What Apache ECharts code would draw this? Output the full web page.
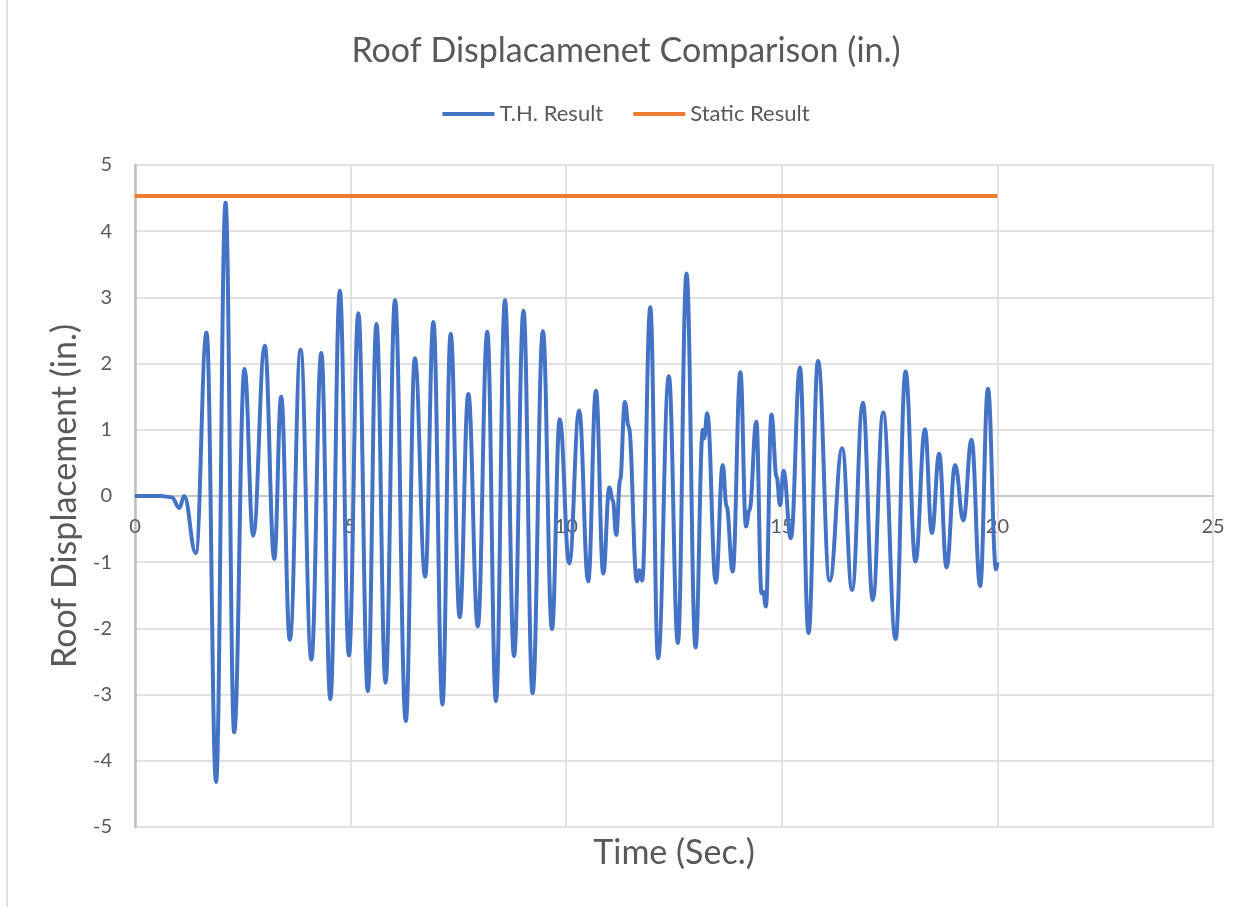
<!DOCTYPE html>
<html>
<head>
<meta charset="utf-8">
<script src="https://cdn.jsdelivr.net/npm/echarts@6/dist/echarts.min.js"></script>
<style>
html,body{margin:0;padding:0;background:#fff;}
#chart{width:1252px;height:907px;}
</style>
</head>
<body>
<div id="chart"></div>
<script>
// Time (sec.) of the T.H. curve's read-off points
const timeValues = [0, 0.6, 0.85, 1.03, 1.14, 1.41, 1.66, 1.88, 2.10, 2.30, 2.54, 2.74, 3.01, 3.23, 3.39, 3.59, 3.84, 4.09, 4.32, 4.53, 4.75, 4.96, 5.18, 5.40, 5.60, 5.81, 6.03, 6.28, 6.49, 6.73, 6.92, 7.13, 7.32, 7.53, 7.73, 7.95, 8.17, 8.37, 8.58, 8.79, 9.01, 9.22, 9.46, 9.67, 9.85, 10.07, 10.30, 10.51, 10.69, 10.86, 11.00, 11.08, 11.16, 11.25, 11.36, 11.45, 11.64, 11.70, 11.76, 11.95, 12.13, 12.38, 12.59, 12.79, 13.00, 13.17, 13.20, 13.27, 13.47, 13.63, 13.72, 13.86, 14.04, 14.17, 14.25, 14.41, 14.53, 14.57, 14.63, 14.76, 14.88, 14.96, 15.04, 15.21, 15.42, 15.62, 15.84, 16.11, 16.40, 16.63, 16.88, 17.11, 17.35, 17.64, 17.87, 18.10, 18.32, 18.48, 18.65, 18.82, 19.02, 19.21, 19.40, 19.60, 19.78, 19.97, 20.0];
// Roof displacement (in.) – T.H. Result
const thValues = [0, 0, -0.02, -0.18, 0, -0.86, 2.47, -4.32, 4.43, -3.57, 1.92, -0.60, 2.27, -0.95, 1.50, -2.17, 2.21, -2.47, 2.16, -3.07, 3.10, -2.41, 2.76, -2.95, 2.60, -2.82, 2.96, -3.40, 2.08, -1.22, 2.63, -3.15, 2.45, -1.83, 1.54, -1.97, 2.48, -3.10, 2.96, -2.42, 2.80, -2.98, 2.49, -2.01, 1.16, -1.02, 1.29, -1.29, 1.59, -1.17, 0.13, -0.06, -0.59, 0.24, 1.42, 1.05, -1.29, -1.12, -1.28, 2.85, -2.45, 1.81, -2.22, 3.36, -2.29, 1.0, 0.87, 1.25, -1.31, 0.47, -0.16, -1.14, 1.87, -0.46, -0.21, 1.12, -1.47, -1.45, -1.67, 1.23, 0.29, -0.14, 0.38, -0.64, 1.94, -2.07, 2.04, -1.28, 0.72, -1.42, 1.41, -1.57, 1.26, -2.16, 1.88, -0.99, 1.01, -0.56, 0.64, -1.08, 0.47, -0.37, 0.85, -1.36, 1.62, -1.11, -1.0];
// Static Result
const staticTimes = [0, 20];
const staticValues = [4.53, 4.53];

const seriesNames = ['T.H. Result', 'Static Result'];
const titleText = 'Roof Displacamenet Comparison (in.)';
const xAxisName = 'Time (Sec.)';
const yAxisName = 'Roof Displacement (in.)';

const thData = timeValues.map((t, i) => [t, thValues[i]]);
const staticData = staticTimes.map((t, i) => [t, staticValues[i]]);

const FONT = 'Lato, "Open Sans", sans-serif';
const TXT = '#595959';

const chart = echarts.init(document.getElementById('chart'), null, {renderer: 'canvas'});
chart.setOption({
  backgroundColor: '#ffffff',
  animation: false,
  textStyle: {fontFamily: FONT, color: TXT},
  graphic: [{
    type: 'line',
    shape: {x1: 7, y1: 0, x2: 7, y2: 907},
    style: {stroke: '#d9d9d9', lineWidth: 1.5}
  }],
  title: {
    text: titleText,
    left: 'center',
    top: 29,
    textStyle: {fontFamily: FONT, fontSize: 34, fontWeight: 'normal', color: TXT}
  },
  legend: {
    top: 98,
    left: 'center',
    itemWidth: 52,
    itemHeight: 4,
    itemGap: 30,
    icon: 'rect',
    textStyle: {fontFamily: FONT, fontSize: 22, color: TXT},
    data: seriesNames
  },
  grid: {left: 135, right: 39, top: 165, bottom: 80, containLabel: false, outerBoundsMode: 'none'},
  xAxis: {
    type: 'value',
    min: 0, max: 25, interval: 5,
    offset: -331,
    name: xAxisName,
    nameLocation: 'middle',
    nameGap: 340,
    nameTextStyle: {fontFamily: FONT, fontSize: 34, color: TXT},
    axisLine: {onZero: false, lineStyle: {color: '#bfbfbf', width: 1.5}},
    axisTick: {show: false},
    axisLabel: {fontFamily: FONT, fontSize: 20, color: TXT, margin: 21},
    splitLine: {show: true, lineStyle: {color: '#d9d9d9', width: 1.5}}
  },
  yAxis: {
    type: 'value',
    min: -5, max: 5, interval: 1,
    name: yAxisName,
    nameLocation: 'middle',
    nameRotate: 90,
    nameGap: 52,
    nameTextStyle: {fontFamily: FONT, fontSize: 34, color: TXT},
    axisLine: {show: true, onZero: false, lineStyle: {color: '#bfbfbf', width: 2.5}},
    axisTick: {show: false},
    axisLabel: {fontFamily: FONT, fontSize: 20, color: TXT, margin: 23},
    splitLine: {show: true, lineStyle: {color: '#d9d9d9', width: 1.5}}
  },
  series: [
    {
      name: seriesNames[0],
      type: 'line',
      data: thData,
      showSymbol: false,
      symbol: 'none',
      smooth: 0.42,
      smoothMonotone: 'x',
      lineStyle: {color: '#4472c4', width: 4},
      itemStyle: {color: '#4472c4'},
      z: 3
    },
    {
      name: seriesNames[1],
      type: 'line',
      data: staticData,
      showSymbol: false,
      symbol: 'none',
      lineStyle: {color: '#ed7d31', width: 4},
      itemStyle: {color: '#ed7d31'},
      z: 2
    }
  ]
});
</script>
</body>
</html>
